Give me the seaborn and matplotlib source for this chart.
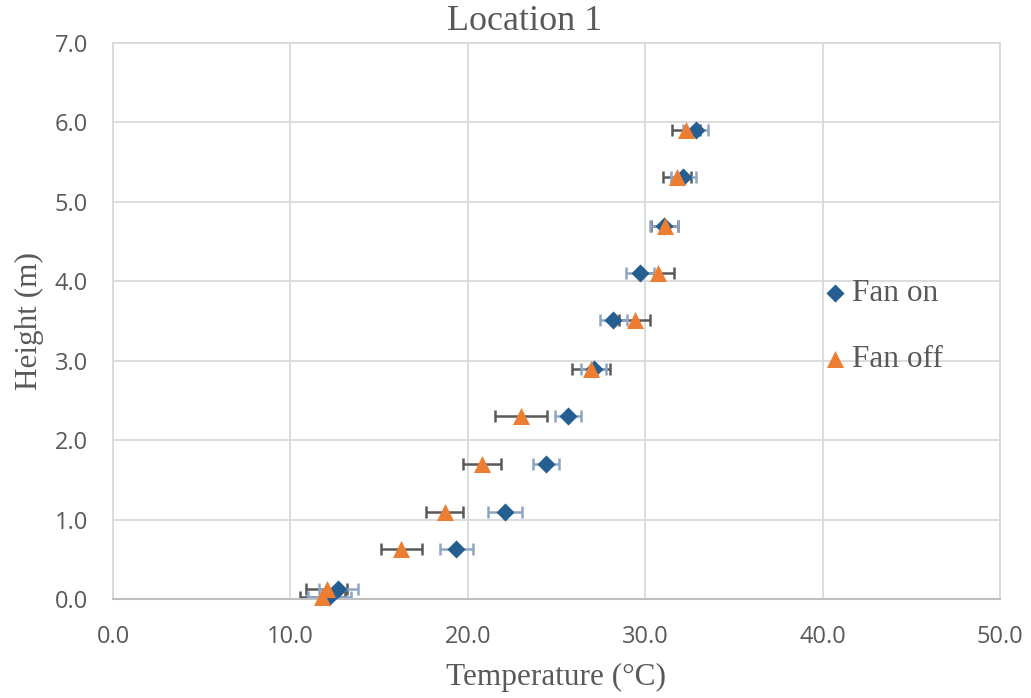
import numpy as np
import pandas as pd
import matplotlib
matplotlib.use("Agg")
import matplotlib.pyplot as plt
import seaborn as sns

# Measured vertical temperature profile, mean and spread at each height
heights_on = [0.02, 0.12, 0.63, 1.10, 1.70, 2.31, 2.90, 3.51, 4.11, 4.70, 5.31, 5.91]
temp_on = [12.2, 12.7, 19.35, 22.1, 24.4, 25.65, 27.1, 28.2, 29.7, 31.05, 32.15, 32.85]
err_on = [1.2, 1.1, 0.93, 0.95, 0.75, 0.75, 0.7, 0.75, 0.8, 0.8, 0.7, 0.7]

heights_off = [0.02, 0.12, 0.63, 1.10, 1.70, 2.31, 2.90, 3.51, 4.11, 4.70, 5.31, 5.91]
temp_off = [11.8, 12.05, 16.25, 18.7, 20.8, 23.0, 26.95, 29.4, 30.7, 31.1, 31.8, 32.3]
err_off = [1.27, 1.15, 1.15, 1.05, 1.05, 1.45, 1.05, 0.85, 0.9, 0.75, 0.8, 0.8]

series_names = ["Fan on", "Fan off"]
x_ticks = [0, 10, 20, 30, 40, 50]
y_ticks = [0, 1, 2, 3, 4, 5, 6, 7]

df = pd.DataFrame({
    "Temperature": temp_on + temp_off,
    "Height": heights_on + heights_off,
    "err": err_on + err_off,
    "Series": [series_names[0]] * len(temp_on) + [series_names[1]] * len(temp_off),
})

sns.set_theme(style="white")
plt.rcParams["font.family"] = ["Liberation Serif", "DejaVu Serif"]

fig = plt.figure(figsize=(10.31, 6.98), dpi=100)
ax = fig.add_axes([113 / 1031, 1 - 599 / 698, 887 / 1031, 556 / 698])

blue = "#255E91"
orange = "#ED7D31"
grid_c = "#D9D9D9"
text_c = "#595959"

# Error bars drawn underneath the markers
ax.errorbar(temp_off, heights_off, xerr=err_off, fmt="none", ecolor="#595959",
            elinewidth=1.8, capsize=4, capthick=1.8, zorder=2)
ax.errorbar(temp_on, heights_on, xerr=err_on, fmt="none", ecolor="#8EA5C3",
            elinewidth=1.8, capsize=4, capthick=1.8, zorder=2)

sns.scatterplot(data=df[df.Series == "Fan on"], x="Temperature", y="Height",
                marker="D", s=85, color=blue, edgecolor=blue, linewidth=0,
                ax=ax, zorder=3, label="Fan on", clip_on=False)
sns.scatterplot(data=df[df.Series == "Fan off"], x="Temperature", y="Height",
                marker="^", s=150, color=orange, edgecolor=orange, linewidth=0,
                ax=ax, zorder=4, label="Fan off", clip_on=False)

ax.set_xlim(0, 50)
ax.set_ylim(0, 7)
ax.set_xticks(x_ticks)
ax.set_yticks(y_ticks)
ax.set_xticklabels([f"{v:.1f}" for v in x_ticks], family=["Open Sans", "DejaVu Sans"],
                   fontsize=17, color=text_c)
ax.set_yticklabels([f"{v:.1f}" for v in y_ticks], family=["Open Sans", "DejaVu Sans"],
                   fontsize=17, color=text_c)
ax.tick_params(axis="x", length=0, pad=19)
ax.tick_params(axis="y", length=0, pad=18)

ax.grid(True, color=grid_c, linewidth=1.3)
ax.set_axisbelow(True)
for side in ["top", "right", "left"]:
    ax.spines[side].set_color(grid_c)
    ax.spines[side].set_linewidth(1.3)
ax.spines["bottom"].set_color("#BFBFBF")
ax.spines["bottom"].set_linewidth(1.5)

ax.set_xlabel("Temperature (°C)", fontsize=22.5, color=text_c, labelpad=10)
ax.set_ylabel("Height (m)", fontsize=22.5, color=text_c, labelpad=8)
fig.text(525 / 1031, 1 - 22 / 698, "Location 1", fontsize=26, color=text_c,
         ha="center", va="center")

leg = ax.legend(loc="center left", bbox_to_anchor=(0.8, 0.49), frameon=False,
                fontsize=22.5, labelspacing=1.2, handlelength=0.8,
                handletextpad=0.15, markerscale=1.0, borderaxespad=0,
                borderpad=0)
for t in leg.get_texts():
    t.set_color(text_c)

fig.savefig("out.png", dpi=100)
